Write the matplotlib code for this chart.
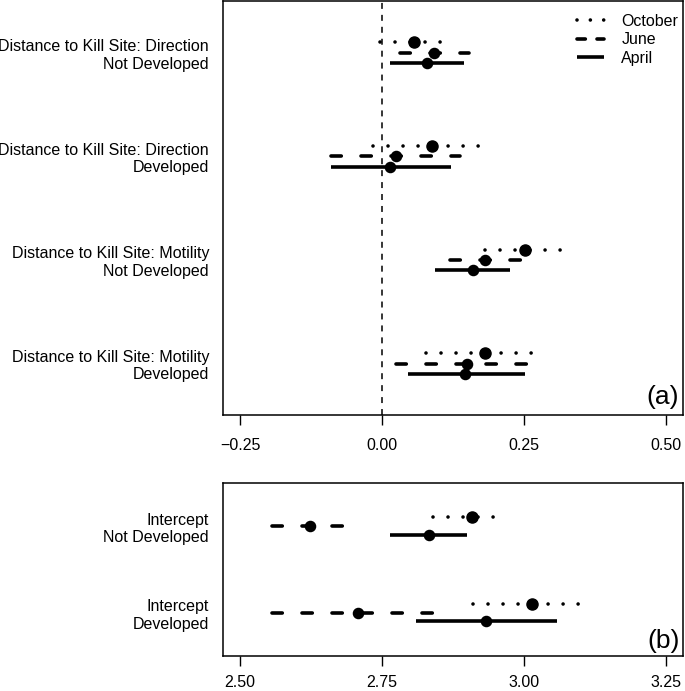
import matplotlib
matplotlib.use("Agg")
import matplotlib.pyplot as plt
import numpy as np

plt.rcParams['font.family'] = ['Liberation Sans', 'DejaVu Sans']
plt.rcParams['lines.scale_dashes'] = False

# ---- data ----
months = ["October", "June", "April"]

top_labels = ["Distance to Kill Site: Direction\nNot Developed",
              "Distance to Kill Site: Direction\nDeveloped",
              "Distance to Kill Site: Motility\nNot Developed",
              "Distance to Kill Site: Motility\nDeveloped"]
# estimate, lower, upper for each label (top to bottom)
top_oct_est = [0.056, 0.088, 0.251, 0.182]
top_oct_lo = [-0.004, -0.016, 0.182, 0.078]
top_oct_hi = [0.104, 0.172, 0.318, 0.267]
top_jun_est = [0.091, 0.025, 0.182, 0.149]
top_jun_lo = [0.031, -0.090, 0.119, 0.024]
top_jun_hi = [0.153, 0.137, 0.247, 0.261]
top_apr_est = [0.079, 0.015, 0.160, 0.147]
top_apr_lo = [0.015, -0.090, 0.094, 0.045]
top_apr_hi = [0.144, 0.121, 0.226, 0.252]

bot_labels = ["Intercept\nNot Developed", "Intercept\nDeveloped"]
bot_oct_est = [2.908, 3.014]
bot_oct_lo = [2.840, 2.911]
bot_oct_hi = [2.948, 3.098]
bot_jun_est = [2.624, 2.708]
bot_jun_lo = [2.557, 2.557]
bot_jun_hi = [2.687, 2.846]
bot_apr_est = [2.832, 2.934]
bot_apr_lo = [2.764, 2.810]
bot_apr_hi = [2.899, 3.059]

top_ticks = [-0.25, 0.0, 0.25, 0.50]
bot_ticks = [2.50, 2.75, 3.00, 3.25]

# line styles per month
LW = 2.6
styles = {
    "October": dict(linestyle=(0, (0.01, 10.8)), dash_capstyle="round"),
    "June": dict(linestyle=(0, (7.4, 14.2)), dash_capstyle="round"),
    "April": dict(linestyle="-", solid_capstyle="butt"),
}
# the legend keys use a slightly tighter pattern
legend_styles = {
    "October": dict(linestyle=(0, (0.01, 9.6)), dash_capstyle="round"),
    "June": dict(linestyle=(0, (6.0, 8.4)), dash_capstyle="round"),
    "April": dict(linestyle="-", solid_capstyle="butt"),
}
offsets = {"October": 0.1, "June": 0.0, "April": -0.1}
msize = {"October": 8.0, "June": 7.3, "April": 7.3}


def draw_panel(ax, labels, series, xlim, ticks, ticklabels, tag, xpad):
    n = len(labels)
    ypos = np.arange(n, 0, -1)
    for m, (est, lo, hi) in zip(months, series):
        y = ypos + offsets[m]
        for yi, e, l, h in zip(y, est, lo, hi):
            ax.plot([l, h], [yi, yi], color="black", lw=LW, **styles[m])
            ax.plot(e, yi, "o", color="black", ms=msize[m])
    ax.set_xlim(xlim)
    ax.set_ylim(0.5, n + 0.5)
    ax.set_yticks(ypos)
    ax.set_yticklabels(labels, fontsize=11.5)
    ax.tick_params(axis="y", length=0, pad=10)
    ax.set_xticks(ticks)
    ax.set_xticklabels(ticklabels, fontsize=11.5)
    ax.tick_params(axis="x", length=7, width=1, pad=xpad)
    for s in ax.spines.values():
        s.set_linewidth(1.1)
    ax.text(0.992, 0.015, tag, transform=ax.transAxes, ha="right", va="bottom",
            fontsize=19)


fig = plt.figure(figsize=(6.85, 6.91), dpi=100)
ax1 = fig.add_axes([0.3255, 0.399, 0.6715, 0.5995])
ax2 = fig.add_axes([0.3255, 0.0506, 0.6715, 0.2508])

ax1.axvline(0, color="black", lw=1.1, linestyle=(0, (4.3, 4.3)))

draw_panel(ax1, top_labels,
           [(top_oct_est, top_oct_lo, top_oct_hi),
            (top_jun_est, top_jun_lo, top_jun_hi),
            (top_apr_est, top_apr_lo, top_apr_hi)],
           (-0.28, 0.53), top_ticks, ["\u22120.25", "0.00", "0.25", "0.50"],
           "(a)", 9.5)

draw_panel(ax2, bot_labels,
           [(bot_oct_est, bot_oct_lo, bot_oct_hi),
            (bot_jun_est, bot_jun_lo, bot_jun_hi),
            (bot_apr_est, bot_apr_lo, bot_apr_hi)],
           (2.47, 3.28), bot_ticks, ["2.50", "2.75", "3.00", "3.25"],
           "(b)", 7)

# legend in the top panel
handles = [plt.Line2D([], [], color="black", lw=LW, **legend_styles[m])
           for m in months]
ax1.legend(handles, months, loc="upper right", bbox_to_anchor=(1.0, 0.981),
           frameon=False, fontsize=11.5, handlelength=1.7, handletextpad=1.1,
           labelspacing=0.22, borderaxespad=0.0, borderpad=0.3)

fig.savefig("out.png", dpi=100)
